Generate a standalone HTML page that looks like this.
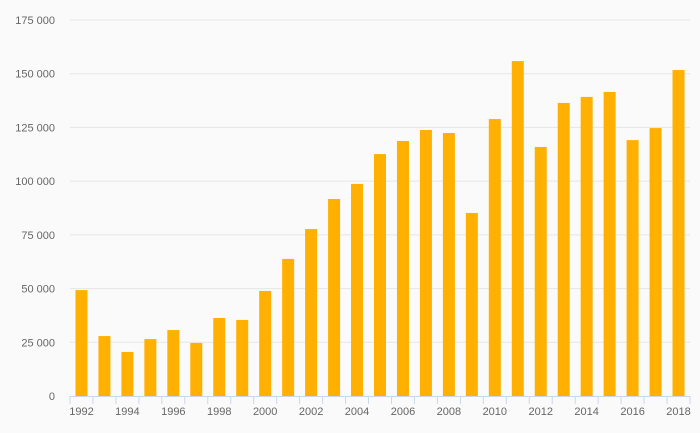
<!DOCTYPE html>
<html><head><meta charset="utf-8"><style>
body{margin:0;background:#fafafa;}
svg{display:block;font-family:"Liberation Sans",sans-serif;}
</style></head><body>
<svg id="chart" width="700" height="433"></svg>
<script>
const years=[1992,1993,1994,1995,1996,1997,1998,1999,2000,2001,2002,2003,2004,2005,2006,2007,2008,2009,2010,2011,2012,2013,2014,2015,2016,2017,2018];
const values=[49300,27900,20500,26500,30700,24700,36300,35400,48900,63800,77700,91700,98700,112600,118700,123800,122400,85200,128900,155900,115900,136400,139200,141500,119100,124700,151700];
const yTicks=[0,25000,50000,75000,100000,125000,150000,175000];
const yTickLabels=["0","25 000","50 000","75 000","100 000","125 000","150 000","175 000"];
const svg=document.getElementById('chart');
const NS='http://www.w3.org/2000/svg';
const L=70,R=690,T=20,B=396,ymax=175000;
const step=(R-L)/years.length;
const y=v=>B-(v/ymax)*(B-T);
const x=i=>L+step*(i+0.5);
function mk(tag,attrs){const e=document.createElementNS(NS,tag);for(const k in attrs)e.setAttribute(k,attrs[k]);svg.appendChild(e);return e;}
yTicks.forEach((t,i)=>{
  if(t>0){const g=mk('line',{x1:L,x2:R,y1:y(t),y2:y(t),stroke:'#e6e6e6','stroke-width':1});
  
  }
  const tx=mk('text',{x:55,y:y(t)+4,'text-anchor':'end','font-size':11,fill:'#666'});
  tx.textContent=yTickLabels[i];
  
  
});
values.forEach((v,i)=>{
  const r=mk('rect',{x:x(i)-6,y:y(v),width:12,height:B-y(v),fill:'#ffb000'});
  
  
});
const ax=mk('line',{x1:L,x2:R,y1:B+0.5,y2:B+0.5,stroke:'#ccd6eb','stroke-width':1});


for(let i=0;i<=years.length;i++){
  const tk=mk('line',{x1:L+step*i,x2:L+step*i,y1:B,y2:B+8,stroke:'#ccd6eb','stroke-width':1});
  
  
}
years.forEach((yr,i)=>{
  if(i%2===0){const tx=mk('text',{x:x(i),y:B+19,'text-anchor':'middle','font-size':11,fill:'#666'});
  tx.textContent=yr;
  
  }
});
</script>
</body></html>
